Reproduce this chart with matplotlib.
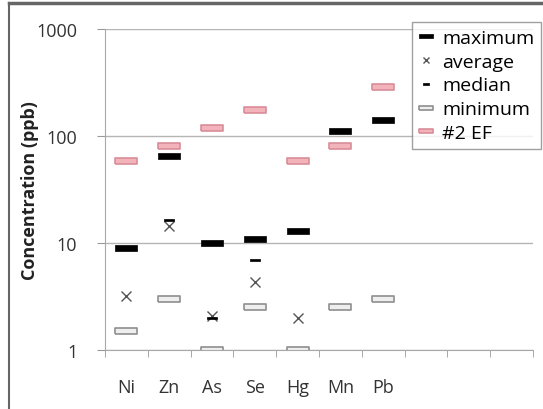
import numpy as np
import matplotlib.pyplot as plt
from matplotlib.lines import Line2D

plt.rcParams['font.family'] = ['Open Sans', 'DejaVu Sans']

metals = ['Ni', 'Zn', 'As', 'Se', 'Hg', 'Mn', 'Pb']
maximum = [9, 65, 10, 10.9, 13, 112, 141]
average = [3.2, 14.5, 2.1, 4.3, 2.0, np.nan, np.nan]
median = [9, 16.5, 2.0, 6.9, np.nan, np.nan, np.nan]
minimum = [1.5, 3.0, 1.0, 2.5, 1.0, 2.5, 3.0]
ef2 = [59, 80, 118, 175, 59, 80, 287]
n_slots = 10  # empty slots after Pb like in the original

# marker shapes (flat rectangles)
bar = [(-1, -0.27), (1, -0.27), (1, 0.27), (-1, 0.27), (-1, -0.27)]
box = [(-1, -0.26), (1, -0.26), (1, 0.26), (-1, 0.26), (-1, -0.26)]

fig = plt.figure(figsize=(5.43, 4.10), dpi=100)
ax = fig.add_axes([105/543, 1-351/410, (533-105)/543, (351-30)/410])

x = np.arange(len(metals))
ax.plot(x, maximum, ls='none', marker=bar, ms=16, mfc='black', mec='black', mew=0.5, label='maximum')
ax.plot(x, average, ls='none', marker='x', ms=7, mec='#555555', mew=1.0, label='average')
ax.plot(x, median, ls='none', marker=bar, ms=7.5, mfc='black', mec='black', mew=0.5, label='median')
ax.plot(x, minimum, ls='none', marker=box, ms=16, mfc='#eeeeee', mec='#8f8f8f', mew=1.2, label='minimum')
ax.plot(x, ef2, ls='none', marker=box, ms=16, mfc='#f2b3bb', mec='#d98d98', mew=1.2, label='#2 EF')

ax.set_yscale('log')
ax.set_ylim(1, 1000)
ax.set_xlim(-0.5, n_slots - 0.5)
ax.set_yticks([1, 10, 100, 1000])
ax.set_yticklabels(['1', '10', '100', '1000'])
ax.minorticks_off()
ax.set_xticks(x)
ax.set_xticklabels(metals)
ax.set_xticks(np.arange(n_slots + 1) - 0.5, minor=True)
ax.tick_params(axis='x', which='major', length=0, pad=20, labelsize=13, colors='#333333')
ax.tick_params(axis='x', which='minor', length=5, color='#999999', direction='out')
ax.tick_params(axis='y', length=6, color='#999999', labelsize=13, colors='#333333', pad=14)

ax.grid(axis='y', which='major', color='#b5b5b5', lw=1)
ax.set_axisbelow(True)
for s in ['top', 'right']:
    ax.spines[s].set_visible(False)
for s in ['left', 'bottom']:
    ax.spines[s].set_color('#a8a8a8')

ax.set_ylabel('Concentration (ppb)', fontsize=13, fontweight='bold', color='#222222')
ax.yaxis.set_label_coords((39 - 105) / 428, 0.5)

leg = ax.legend(loc='upper right', bbox_to_anchor=(541/543, 1-23/410), bbox_transform=fig.transFigure,
                fontsize=14, frameon=True, fancybox=False, handlelength=0.8, handletextpad=0.4,
                labelspacing=0.3, borderpad=0.35, borderaxespad=0, markerscale=0.6)
leg.get_frame().set_edgecolor('#888888')
leg.get_frame().set_linewidth(1)

# frame around the picture
fig.add_artist(Line2D([9/543, 1], [1-4/410, 1-4/410], color='#666666', lw=2.5))
fig.add_artist(Line2D([9/543, 9/543], [0, 1-4/410], color='#666666', lw=1.5))

plt.savefig('out.png', dpi=100)
